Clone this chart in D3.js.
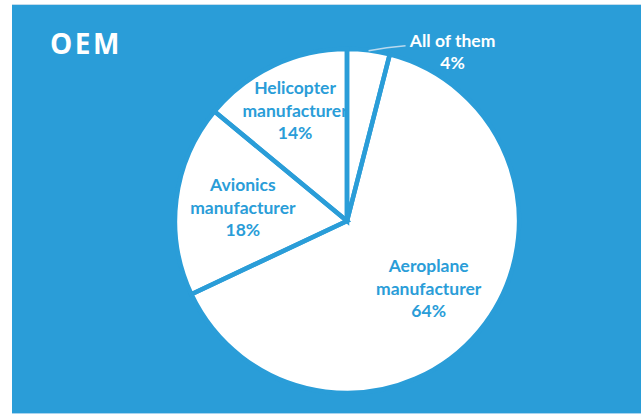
<!DOCTYPE html>
<html>
<head>
<meta charset="utf-8">
<script src="https://cdn.jsdelivr.net/npm/d3@7/dist/d3.min.js"></script>
<style>
  html, body { margin: 0; padding: 0; background: #ffffff; }
  svg { display: block; }
</style>
</head>
<body>
<div id="chart"></div>
<script>
// OEM breakdown, clockwise from 12 o'clock
const categories = ["All of them", "Aeroplane manufacturer", "Avionics manufacturer", "Helicopter manufacturer"];
const shares = [4, 64, 18, 14];
const chartTitle = "OEM";

// label lines for each slice (name split over lines, then the percentage)
const labelLines = [["All of them"], ["Aeroplane", "manufacturer"], ["Avionics", "manufacturer"], ["Helicopter", "manufacturer"]];

// ---- layout ----
const W = 641, H = 418;
const BLUE = "#2a9dd8";
const panel = { x: 12, y: 5, w: 629, h: 408 };
const cx = 347, cy = 221, R = 172;
const labelRadius = [null, 106, 105, 122];   // inside-label distances from centre
const lineGap = 22.5;

const data = categories.map((c, i) => ({ name: c, value: shares[i], lines: labelLines[i] }));

const svg = d3.select("#chart").append("svg")
  .attr("width", W).attr("height", H);

// blue panel with thin light rules top and bottom
svg.append("rect")
  .attr("x", panel.x).attr("y", panel.y)
  .attr("width", panel.w).attr("height", panel.h)
  .attr("fill", BLUE);
svg.append("line")
  .attr("x1", panel.x).attr("x2", W)
  .attr("y1", panel.y - 0.5).attr("y2", panel.y - 0.5)
  .attr("stroke", "#c3dcec").attr("stroke-width", 1);
svg.append("line")
  .attr("x1", panel.x).attr("x2", W)
  .attr("y1", panel.y + panel.h + 0.5).attr("y2", panel.y + panel.h + 0.5)
  .attr("stroke", "#a9d4ef").attr("stroke-width", 1);

// title
svg.append("text")
  .attr("x", 50).attr("y", 54)
  .attr("fill", "#ffffff")
  .attr("font-family", "'Open Sans', sans-serif")
  .attr("font-weight", 700)
  .attr("font-size", 28)
  .attr("letter-spacing", 2.5)
  .text(chartTitle);

const pie = d3.pie().sort(null).value(d => d.value).startAngle(0).endAngle(2 * Math.PI);
const arcs = pie(data);
const arc = d3.arc().innerRadius(0).outerRadius(R);

const g = svg.append("g").attr("transform", `translate(${cx},${cy})`);

// slice fills
g.selectAll("path.fill").data(arcs).enter().append("path")
  .attr("class", "fill")
  .attr("d", arc)
  .attr("fill", "#ffffff");

const pct = d3.format(".0f");

// inside labels
arcs.forEach((a, i) => {
  if (labelRadius[i] == null) return;
  const c = d3.arc().innerRadius(labelRadius[i]).outerRadius(labelRadius[i]).centroid(a);
  const lines = a.data.lines.concat([pct(a.data.value) + "%"]);
  const t = g.append("text")
    .attr("text-anchor", "middle")
    .attr("fill", BLUE)
    .attr("font-family", "Lato, 'Open Sans', sans-serif")
    .attr("font-weight", 700)
    .attr("font-size", 17.5);
  const y0 = c[1] - (lines.length - 1) / 2 * lineGap + 6;
  lines.forEach((s, k) => {
    t.append("tspan").attr("x", c[0]).attr("y", y0 + k * lineGap).text(s);
  });
});

// slice borders drawn over the labels
g.selectAll("path.edge").data(arcs).enter().append("path")
  .attr("class", "edge")
  .attr("d", arc)
  .attr("fill", "none")
  .attr("stroke", BLUE)
  .attr("stroke-width", 4.5)
  .attr("stroke-linejoin", "miter");

// outside label with leader for the small slice
{
  const a = arcs[0];
  const p = d3.arc().innerRadius(R).outerRadius(R).centroid(a);
  const end = [p[0] + 37, p[1] - 4.5];
  g.append("path")
    .attr("d", `M${p[0]},${p[1] + 0.5} Q${p[0] + 18},${p[1] - 3} ${end[0]},${end[1]}`)
    .attr("fill", "none")
    .attr("stroke", "#b9d9ee")
    .attr("stroke-width", 1.5);
  const lines = a.data.lines.concat([pct(a.data.value) + "%"]);
  const t = g.append("text")
    .attr("text-anchor", "middle")
    .attr("fill", "#ffffff")
    .attr("font-family", "Lato, 'Open Sans', sans-serif")
    .attr("font-weight", 700)
    .attr("font-size", 17.5);
  lines.forEach((s, k) => {
    t.append("tspan").attr("x", end[0] + 47).attr("y", end[1] + 1 + k * lineGap).text(s);
  });
}
</script>
</body>
</html>
